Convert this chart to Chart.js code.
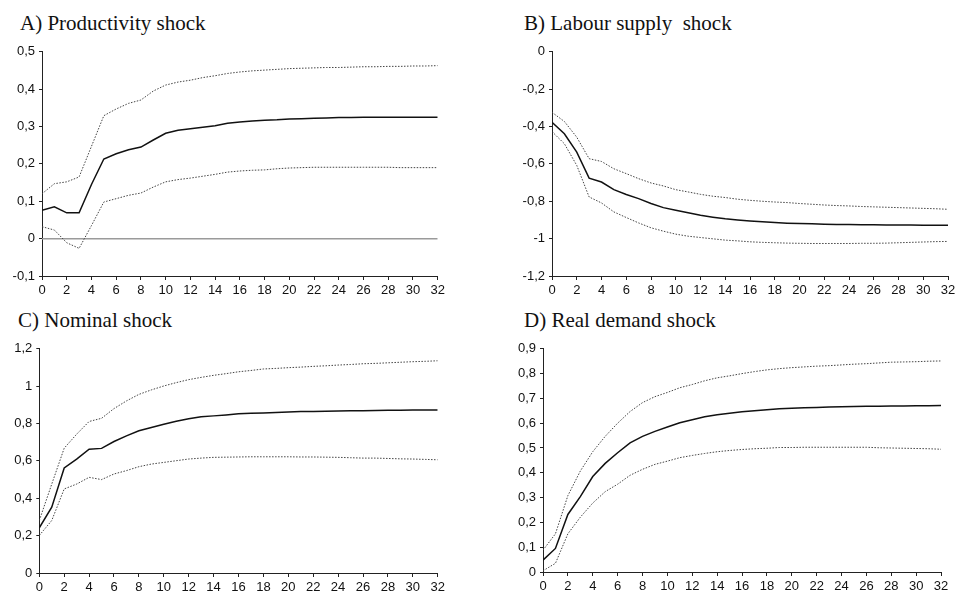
<!DOCTYPE html>
<html>
<head>
<meta charset="utf-8">
<script src="https://cdn.jsdelivr.net/npm/chart.js@4.4.1/dist/chart.umd.min.js"></script>
<style>
  html, body { margin: 0; padding: 0; background: #fff; }
  body { width: 962px; height: 594px; position: relative; overflow: hidden; }
  .title { position: absolute; font-family: "Liberation Serif", "DejaVu Serif", serif; font-size: 21px; line-height: 21px; color: #111; white-space: pre; }
  canvas { position: absolute; }
</style>
</head>
<body>
<div class="title" style="left:20px; top:13px;">A) Productivity shock</div>
<div class="title" style="left:524px; top:13px;">B) Labour supply  shock</div>
<div class="title" style="left:18px; top:310px;">C) Nominal shock</div>
<div class="title" style="left:524px; top:310px;">D) Real demand shock</div>
<canvas id="chart-a" width="475" height="265" style="left:0px; top:40px;"></canvas>
<canvas id="chart-b" width="481" height="265" style="left:481px; top:40px;"></canvas>
<canvas id="chart-c" width="475" height="265" style="left:0px; top:337px;"></canvas>
<canvas id="chart-d" width="481" height="265" style="left:481px; top:337px;"></canvas>
<script>
// ─── DADOS ──────────────────────────────────────────────
const horizons = Array.from({ length: 33 }, (_, i) => i);

const prodMid = [0.076, 0.085, 0.069, 0.069, 0.145, 0.213, 0.227, 0.238, 0.245, 0.264, 0.282, 0.290, 0.294, 0.298, 0.302, 0.309, 0.312, 0.315, 0.317, 0.318, 0.320, 0.321, 0.322, 0.323, 0.324, 0.324, 0.325, 0.325, 0.325, 0.325, 0.325, 0.325, 0.325];
const prodUp = [0.120, 0.147, 0.152, 0.165, 0.247, 0.329, 0.347, 0.362, 0.371, 0.395, 0.411, 0.419, 0.424, 0.431, 0.436, 0.442, 0.446, 0.449, 0.451, 0.453, 0.455, 0.456, 0.457, 0.458, 0.458, 0.459, 0.460, 0.460, 0.461, 0.461, 0.462, 0.462, 0.463];
const prodLo = [0.032, 0.023, -0.011, -0.026, 0.035, 0.098, 0.107, 0.116, 0.122, 0.138, 0.152, 0.158, 0.162, 0.167, 0.172, 0.178, 0.181, 0.183, 0.184, 0.187, 0.189, 0.190, 0.191, 0.191, 0.191, 0.191, 0.191, 0.191, 0.191, 0.190, 0.190, 0.190, 0.190];
const zeroLine = horizons.map(() => 0);

const labMid = [-0.377, -0.439, -0.537, -0.676, -0.697, -0.738, -0.764, -0.786, -0.812, -0.834, -0.848, -0.862, -0.875, -0.885, -0.894, -0.900, -0.905, -0.910, -0.914, -0.917, -0.919, -0.921, -0.923, -0.924, -0.925, -0.926, -0.926, -0.927, -0.927, -0.927, -0.928, -0.928, -0.928];
const labUp = [-0.324, -0.373, -0.457, -0.572, -0.587, -0.626, -0.652, -0.679, -0.702, -0.718, -0.738, -0.750, -0.763, -0.773, -0.780, -0.789, -0.795, -0.800, -0.804, -0.807, -0.812, -0.816, -0.820, -0.823, -0.825, -0.828, -0.830, -0.832, -0.834, -0.836, -0.838, -0.840, -0.843];
const labLo = [-0.427, -0.492, -0.608, -0.777, -0.809, -0.857, -0.887, -0.916, -0.942, -0.960, -0.976, -0.987, -0.994, -1.001, -1.008, -1.012, -1.017, -1.020, -1.022, -1.024, -1.025, -1.026, -1.026, -1.026, -1.026, -1.025, -1.025, -1.024, -1.022, -1.020, -1.018, -1.016, -1.015];

const nomMid = [0.242, 0.352, 0.562, 0.610, 0.663, 0.667, 0.704, 0.734, 0.761, 0.779, 0.796, 0.812, 0.825, 0.836, 0.841, 0.846, 0.852, 0.855, 0.857, 0.859, 0.862, 0.864, 0.865, 0.866, 0.867, 0.868, 0.869, 0.870, 0.871, 0.871, 0.872, 0.872, 0.873];
const nomUp = [0.281, 0.476, 0.668, 0.743, 0.811, 0.828, 0.880, 0.921, 0.956, 0.980, 1.001, 1.019, 1.035, 1.047, 1.058, 1.067, 1.077, 1.084, 1.092, 1.095, 1.099, 1.102, 1.106, 1.109, 1.113, 1.116, 1.120, 1.122, 1.125, 1.128, 1.131, 1.133, 1.136];
const nomLo = [0.201, 0.281, 0.450, 0.476, 0.512, 0.500, 0.530, 0.548, 0.569, 0.583, 0.592, 0.601, 0.610, 0.615, 0.619, 0.620, 0.621, 0.622, 0.622, 0.622, 0.622, 0.621, 0.621, 0.620, 0.619, 0.617, 0.615, 0.615, 0.613, 0.611, 0.610, 0.608, 0.606];

const demMid = [0.048, 0.095, 0.232, 0.304, 0.385, 0.438, 0.481, 0.521, 0.547, 0.567, 0.585, 0.602, 0.614, 0.626, 0.634, 0.640, 0.646, 0.650, 0.654, 0.658, 0.660, 0.662, 0.663, 0.665, 0.666, 0.667, 0.668, 0.668, 0.669, 0.669, 0.670, 0.670, 0.671];
const demUp = [0.088, 0.154, 0.308, 0.407, 0.485, 0.547, 0.600, 0.647, 0.683, 0.707, 0.724, 0.743, 0.756, 0.771, 0.783, 0.791, 0.800, 0.808, 0.815, 0.820, 0.824, 0.827, 0.830, 0.832, 0.835, 0.838, 0.840, 0.843, 0.846, 0.847, 0.848, 0.850, 0.851];
const demLo = [0.005, 0.035, 0.154, 0.221, 0.278, 0.324, 0.354, 0.390, 0.414, 0.434, 0.447, 0.461, 0.470, 0.478, 0.485, 0.490, 0.494, 0.497, 0.499, 0.502, 0.502, 0.503, 0.503, 0.503, 0.503, 0.503, 0.503, 0.501, 0.500, 0.499, 0.498, 0.497, 0.495];

// ─── GRÁFICOS ───────────────────────────────────────────
const AXIS = '#222';
const XAXIS_H = 24;

function pts(vals) {
  return vals.map((v, i) => ({ x: horizons[i], y: v }));
}

function fmt(v) {
  return String(Math.round(v * 10) / 10).replace('.', ',');
}

function mid(vals) {
  return { data: pts(vals), borderColor: '#111', borderWidth: 1.5, pointRadius: 0, tension: 0, order: 1 };
}

function band(vals) {
  return { data: pts(vals), borderColor: '#444', borderWidth: 1, borderDash: [1.5, 1.5], pointRadius: 0, tension: 0, order: 2 };
}

// box = posição do canvas na página, area = chartArea desejada na página
function panel(id, box, area, yMin, yMax, yStep, datasets) {
  const canvas = document.getElementById(id);
  return new Chart(canvas, {
    type: 'line',
    data: { datasets },
    options: {
      responsive: false,
      animation: false,
      events: [],
      layout: {
        padding: {
          left: 0,
          top: area.t - box.y,
          right: box.x + box.w - area.r,
          bottom: box.y + box.h - area.b - XAXIS_H
        }
      },
      plugins: { legend: { display: false }, tooltip: { enabled: false } },
      scales: {
        x: {
          type: 'linear',
          min: 0,
          max: 32,
          afterFit: s => { s.height = XAXIS_H; },
          ticks: {
            stepSize: 2,
            color: '#111',
            padding: 3,
            maxRotation: 0,
            autoSkip: false,
            font: { family: '"Liberation Sans", Arial, sans-serif', size: 13 }
          },
          border: { display: true, color: AXIS, width: 1 },
          grid: { drawOnChartArea: false, drawTicks: true, tickLength: 4, color: AXIS }
        },
        y: {
          min: yMin,
          max: yMax,
          afterFit: s => { s.width = area.l - box.x; },
          ticks: {
            stepSize: yStep,
            color: '#111',
            padding: 4,
            callback: v => fmt(v),
            font: { family: '"Liberation Sans", Arial, sans-serif', size: 13 }
          },
          border: { display: true, color: AXIS, width: 1 },
          grid: { drawOnChartArea: false, drawTicks: true, tickLength: 3, color: AXIS }
        }
      }
    }
  });
}

panel('chart-a', { x: 0, y: 40, w: 475, h: 265 }, { l: 42, t: 50.7, r: 437.7, b: 276 }, -0.1, 0.5, 0.1, [
  { data: pts(zeroLine), borderColor: '#9a9a9a', borderWidth: 1.5, pointRadius: 0, order: 3 },
  mid(prodMid), band(prodUp), band(prodLo)
]);

panel('chart-b', { x: 481, y: 40, w: 481, h: 265 }, { l: 552, t: 51, r: 948, b: 276 }, -1.2, 0, 0.2, [
  mid(labMid), band(labUp), band(labLo)
]);

panel('chart-c', { x: 0, y: 337, w: 475, h: 265 }, { l: 39.3, t: 348, r: 437.7, b: 573 }, 0, 1.2, 0.2, [
  mid(nomMid), band(nomUp), band(nomLo)
]);

panel('chart-d', { x: 481, y: 337, w: 481, h: 265 }, { l: 543, t: 347, r: 941, b: 572 }, 0, 0.9, 0.1, [
  mid(demMid), band(demUp), band(demLo)
]);
</script>
</body>
</html>
